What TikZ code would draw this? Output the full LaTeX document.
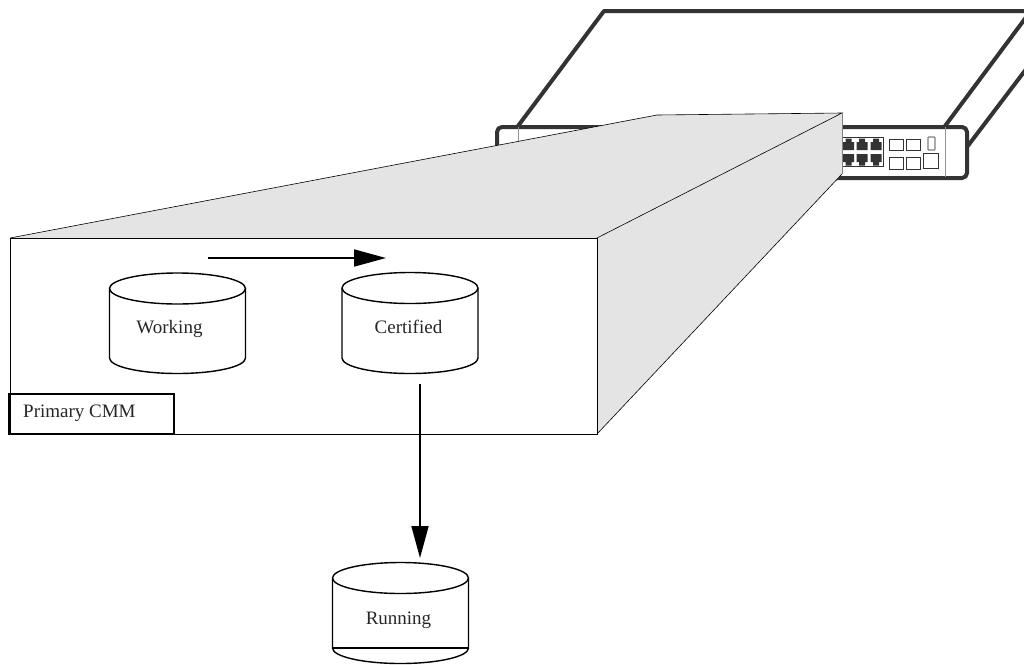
\documentclass[tikz,border=0pt]{standalone}
\usepackage{fontspec}
\setmainfont{Liberation Serif}
\usetikzlibrary{arrows.meta}
\definecolor{devdark}{HTML}{333333}
\definecolor{facegray}{HTML}{E4E4E4}
\tikzset{
  x=1pt,y=-1pt,
  device/.style={draw=devdark,line width=4pt,line join=round},
  panelline/.style={draw=gray!85,line width=1pt},
  slot/.style={draw=devdark,line width=1pt,fill=white},
  port/.style={fill=devdark,draw=none},
  front/.style={fill=white,draw=black,line width=0.9pt},
  cylline/.style={draw=black,line width=1.4pt},
  cyltext/.style={font=\fontsize{19}{22}\selectfont,text=black!85,inner sep=0pt},
  flow/.style={draw=black,line width=1.7pt,-{Triangle[length=32pt,width=17pt]}},
  labelbox/.style={draw=black,line width=2.2pt,fill=none}
}
\newcommand{\cylshape}[3]{% centre x, top-ellipse centre y, body bottom y
  \draw[cylline] (#1-68,#3) -- (#1-68,#2)
    arc[start angle=180,end angle=0,x radius=68,y radius=-15.5]
    -- (#1+68,#3);
  \draw[cylline] (#1-68,#2) arc[start angle=180,end angle=360,x radius=68,y radius=-15.5];
  \draw[cylline] (#1-68,#3) arc[start angle=180,end angle=360,x radius=68,y radius=-15.5];
}
\newcommand{\rjup}[1]{% port with narrow part on top, x centre
  \fill[port] (#1-5.5,150) -- (#1-5.5,142) -- (#1-3,142) -- (#1-3,138.5) -- (#1+3,138.5) -- (#1+3,142) -- (#1+5.5,142) -- (#1+5.5,150) -- cycle;
}
\newcommand{\rjdown}[1]{% port with narrow part below
  \fill[port] (#1-5.5,154) -- (#1+5.5,154) -- (#1+5.5,162) -- (#1+3,162) -- (#1+3,165.5) -- (#1-3,165.5) -- (#1-3,162) -- (#1-5.5,162) -- cycle;
}
\begin{document}
\begin{tikzpicture}
\useasboundingbox (0,0) rectangle (1024,664);
% device
\draw[device] (518,126) -- (604,11) -- (1030,11);
\draw[device] (945,126) -- (1030,12);
\draw[device] (967,147) -- (1030,64);
\draw[device,rounded corners=5pt] (497,170) -- (497,127) -- (967,127) -- (967,178) -- (800,178);
\draw[panelline] (518,127) -- (518,178);
\draw[panelline] (945,127) -- (945,177);
\draw[draw=devdark,line width=0.8pt] (800,137) rectangle (883,166);
\foreach \c in {848.5,862,876}{\rjup{\c}\rjdown{\c}}
\draw[slot] (889,139) rectangle (903,150);
\draw[slot] (906,139) rectangle (920,150);
\draw[slot] (889,157) rectangle (903,169);
\draw[slot] (906,157) rectangle (920,169);
\draw[slot,draw=gray,rounded corners=0.8pt,line width=1.2pt] (928,137) rectangle (935,150);
\draw[slot] (923,153) rectangle (938,168);
% magnified box
\fill[facegray] (597,238) -- (842,113) -- (842,174) -- (597,434) -- cycle;
\fill[facegray] (10,238) -- (657,115) -- (842,113) -- (597,238) -- cycle;
\draw[draw=black,line width=0.6pt] (10,238) -- (657,115) -- (842,113) -- (597,238);
\draw[draw=gray,line width=1pt] (842,113) -- (842,174);
\draw[draw=black,line width=0.6pt] (842,174) -- (597,434);
\draw[front] (10,238) rectangle (597,434);
% cylinders
\cylshape{177.5}{288.5}{358}
\cylshape{410}{288}{358}
\cylshape{400.5}{578}{648}
\draw[line width=1.3pt] (332.5,648) -- (468.5,648);
\node[cyltext] (working) at (169.5,329) {Working};
\node[cyltext] (certified) at (408.5,327) {Certified};
\node[cyltext] (running) at (398.5,620) {Running};
% label
\node[labelbox,minimum width=165pt,minimum height=40pt,inner sep=0pt,outer sep=0pt] (primary) at (91.5,414) {};
\node[cyltext,anchor=west] (primarytext) at (23,413) {Primary CMM};
% arrows
\coordinate (a1) at (208,258);
\coordinate (a2) at (386,258);
\coordinate (b1) at (420,384);
\coordinate (b2) at (420,558);
\draw[flow] (a1) -- (a2);
\draw[flow] (b1) -- (b2);
\end{tikzpicture}
\end{document}
